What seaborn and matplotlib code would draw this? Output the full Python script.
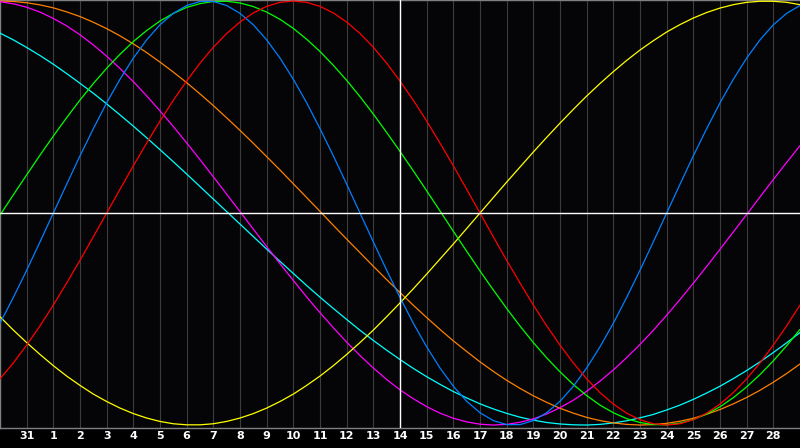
import matplotlib
matplotlib.use("Agg")
import matplotlib.pyplot as plt
import seaborn as sns
import pandas as pd

# ------------------------------------------------------------
# Datos (valores de -1 a +1)
# *_day  -> un valor en cada día (posiciones -1 .. 29)
# *_half -> un valor a mitad de cada día (posiciones -0.5 .. 28.5)
# ------------------------------------------------------------
day_labels = ["31"] + [str(d) for d in range(1, 29)]
day_pos = list(range(-1, 30))
half_pos = [d + 0.5 for d in range(-1, 29)]
today_pos = 14

blue_day = [-0.520, -0.270, 0.000, 0.270, 0.520, 0.731, 0.888, 0.979, 0.998, 0.942,
            0.817, 0.631, 0.398, 0.136, -0.136, -0.398, -0.631, -0.817, -0.942, -0.998,
            -0.979, -0.888, -0.731, -0.520, -0.270, 0.000, 0.270, 0.520, 0.731, 0.888, 0.979]
blue_half = [-0.398, -0.136, 0.136, 0.398, 0.631, 0.817, 0.942, 0.998, 0.979, 0.888,
             0.731, 0.520, 0.270, 0.000, -0.270, -0.520, -0.731, -0.888, -0.979, -0.998,
             -0.942, -0.817, -0.631, -0.398, -0.136, 0.136, 0.398, 0.631, 0.817, 0.942]

red_day = [-0.782, -0.623, -0.434, -0.223, 0.000, 0.223, 0.434, 0.623, 0.782, 0.901,
           0.975, 1.000, 0.975, 0.901, 0.782, 0.623, 0.434, 0.223, 0.000, -0.223,
           -0.434, -0.623, -0.782, -0.901, -0.975, -1.000, -0.975, -0.901, -0.782, -0.623, -0.434]
red_half = [-0.707, -0.532, -0.330, -0.112, 0.112, 0.330, 0.532, 0.707, 0.847, 0.944,
            0.994, 0.994, 0.944, 0.847, 0.707, 0.532, 0.330, 0.112, -0.112, -0.330,
            -0.532, -0.707, -0.847, -0.944, -0.994, -0.994, -0.944, -0.847, -0.707, -0.532]

green_day = [-0.010, 0.180, 0.363, 0.533, 0.683, 0.809, 0.906, 0.970, 0.998, 0.991,
             0.948, 0.871, 0.762, 0.626, 0.467, 0.291, 0.105, -0.086, -0.273, -0.450,
             -0.611, -0.749, -0.861, -0.942, -0.988, -0.999, -0.974, -0.914, -0.820, -0.697, -0.549]
green_half = [0.086, 0.273, 0.450, 0.611, 0.749, 0.861, 0.942, 0.988, 0.999, 0.974,
              0.914, 0.820, 0.697, 0.549, 0.380, 0.199, 0.010, -0.180, -0.363, -0.533,
              -0.683, -0.809, -0.906, -0.970, -0.998, -0.991, -0.948, -0.871, -0.762, -0.626]

magenta_day = [0.997, 0.971, 0.918, 0.841, 0.740, 0.620, 0.482, 0.331, 0.171, 0.007,
               -0.158, -0.318, -0.470, -0.609, -0.731, -0.834, -0.913, -0.968, -0.996, -0.997,
               -0.971, -0.918, -0.841, -0.740, -0.620, -0.482, -0.331, -0.171, -0.007, 0.158, 0.318]
magenta_half = [0.987, 0.948, 0.883, 0.793, 0.682, 0.553, 0.408, 0.252, 0.089, -0.076,
                -0.239, -0.396, -0.541, -0.672, -0.785, -0.876, -0.944, -0.985, -1.000, -0.987,
                -0.948, -0.883, -0.793, -0.682, -0.553, -0.408, -0.252, -0.089, 0.076, 0.239]

yellow_day = [-0.489, -0.611, -0.720, -0.813, -0.889, -0.946, -0.983, -0.999, -0.994, -0.967,
              -0.920, -0.854, -0.769, -0.667, -0.552, -0.424, -0.288, -0.146, 0.000, 0.146,
              0.288, 0.424, 0.552, 0.667, 0.769, 0.854, 0.920, 0.967, 0.994, 0.999, 0.983]
yellow_half = [-0.552, -0.667, -0.769, -0.854, -0.920, -0.967, -0.994, -0.999, -0.983, -0.946,
               -0.889, -0.813, -0.720, -0.611, -0.489, -0.357, -0.217, -0.073, 0.073, 0.217,
               0.357, 0.489, 0.611, 0.720, 0.813, 0.889, 0.946, 0.983, 0.999, 0.994]

orange_day = [1.000, 0.992, 0.968, 0.927, 0.870, 0.798, 0.712, 0.615, 0.507, 0.390,
              0.266, 0.138, 0.008, -0.123, -0.251, -0.375, -0.493, -0.603, -0.702, -0.789,
              -0.862, -0.921, -0.964, -0.990, -1.000, -0.992, -0.968, -0.927, -0.870, -0.798, -0.712]
orange_half = [0.998, 0.982, 0.949, 0.900, 0.836, 0.757, 0.665, 0.562, 0.449, 0.329,
               0.203, 0.073, -0.058, -0.187, -0.314, -0.435, -0.549, -0.653, -0.747, -0.827,
               -0.893, -0.944, -0.979, -0.997, -0.998, -0.982, -0.949, -0.900, -0.836, -0.757]

cyan_day = [0.849, 0.781, 0.702, 0.612, 0.515, 0.410, 0.299, 0.184, 0.066, -0.052,
            -0.170, -0.285, -0.397, -0.502, -0.601, -0.691, -0.772, -0.842, -0.900, -0.945,
            -0.977, -0.995, -1.000, -0.990, -0.966, -0.929, -0.879, -0.817, -0.743, -0.658, -0.564]
cyan_half = [0.817, 0.743, 0.658, 0.565, 0.463, 0.355, 0.242, 0.125, 0.007, -0.111,
             -0.228, -0.342, -0.450, -0.553, -0.647, -0.733, -0.808, -0.872, -0.924, -0.963,
             -0.988, -0.999, -0.997, -0.980, -0.950, -0.906, -0.849, -0.781, -0.702, -0.612]

series = {
    "cyan": (cyan_day, cyan_half),
    "orange": (orange_day, orange_half),
    "magenta": (magenta_day, magenta_half),
    "yellow": (yellow_day, yellow_half),
    "green": (green_day, green_half),
    "blue": (blue_day, blue_half),
    "red": (red_day, red_half),
}
palette = {
    "cyan": "#00ffff",
    "orange": "#ff8000",
    "magenta": "#ff00ff",
    "yellow": "#ffff00",
    "green": "#00ff00",
    "blue": "#0080ff",
    "red": "#ff0000",
}

# Tabla larga para seaborn (se ordena por posición para unir días y medios días)
frames = []
for name, (vals_day, vals_half) in series.items():
    frames.append(pd.DataFrame({"dia": day_pos, "valor": vals_day, "curva": name}))
    frames.append(pd.DataFrame({"dia": half_pos, "valor": vals_half, "curva": name}))
df = pd.concat(frames, ignore_index=True)
df["orden"] = df["curva"].map({n: i for i, n in enumerate(series)})
df = df.sort_values(["orden", "dia"]).reset_index(drop=True)

# ------------------------------------------------------------
# Figura
# ------------------------------------------------------------
sns.set_theme(style="dark")
fig = plt.figure(figsize=(8, 4.48), dpi=100, facecolor="#000000")
ax = fig.add_axes([0, 20 / 448, 1, 428 / 448])
ax.set_facecolor("#050508")

# rejilla vertical, un trazo por día
for x in range(0, 29):
    ax.axvline(x, color="#3c3c3c", lw=0.8, zorder=1)

sns.lineplot(data=df, x="dia", y="valor", hue="curva", palette=palette,
             estimator=None, sort=False, lw=0.9, legend=False, ax=ax, zorder=3)

# líneas de referencia: hoy y el eje cero
ax.axvline(today_pos, color="white", lw=1.0, zorder=4)
ax.axhline(0, color="white", lw=1.0, zorder=4)

ax.set_xlim(-1, 29)
ax.set_ylim(-1.014, 1.005)
ax.set_xticks(range(0, 29))
ax.set_xticklabels(day_labels, color="white", fontsize=8, fontweight="bold")
ax.set_yticks([])
ax.tick_params(axis="x", length=0, pad=2.5)
ax.set_xlabel("")
ax.set_ylabel("")
ax.grid(False)

for side in ["left", "top", "bottom"]:
    ax.spines[side].set_visible(True)
    ax.spines[side].set_color("#808080")
    ax.spines[side].set_linewidth(1.0)
ax.spines["right"].set_visible(False)

fig.savefig("out.png", dpi=100, facecolor=fig.get_facecolor())
plt.close(fig)
